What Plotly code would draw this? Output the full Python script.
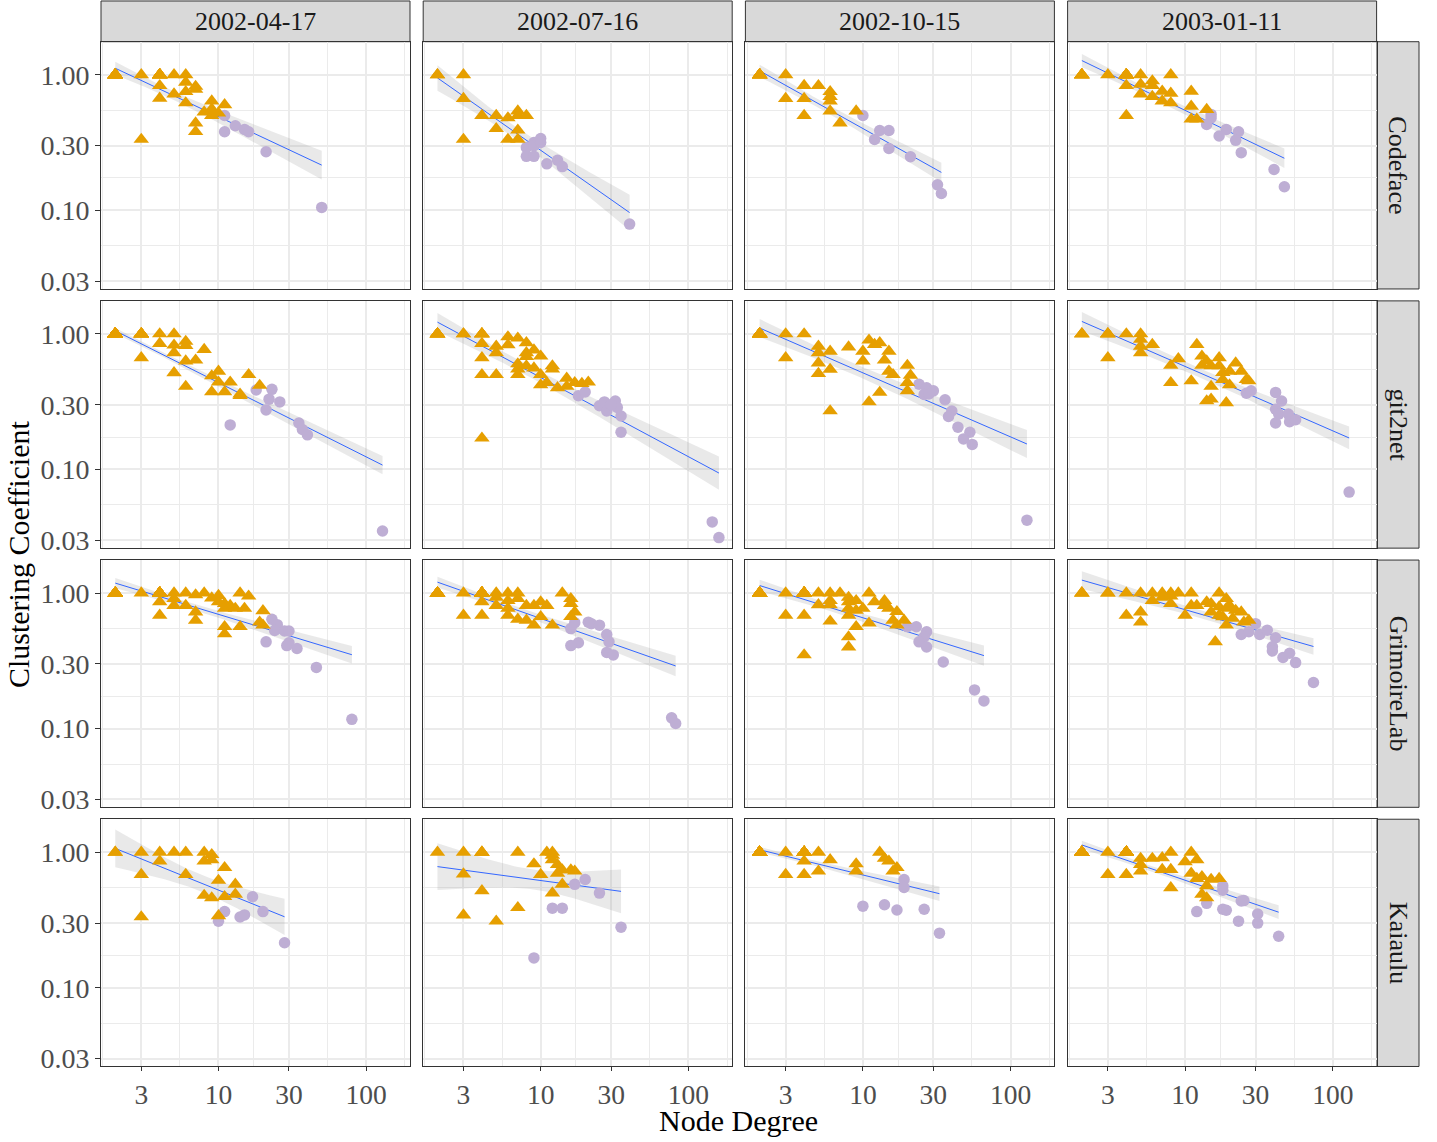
import numpy as np
import plotly.graph_objects as go

# ---------------- data ----------------
DATES = ["2002-04-17", "2002-07-16", "2002-10-15", "2003-01-11"]
TOOLS = ["Codeface", "git2net", "GrimoireLab", "Kaiaulu"]

X_TICKS = [3, 10, 30, 100]
X_TICK_TEXT = ["3", "10", "30", "100"]
Y_TICKS = [0.03, 0.1, 0.3, 1.0]
Y_TICK_TEXT = ["0.03", "0.10", "0.30", "1.00"]

# (node degree, clustering coefficient) ; peripheral = triangles, core = circles
codeface_0417_peripheral = [(2,1.0),(3,1.0),(4,1.0),(5,1.0),(6,1.0),(4,0.83),(6,0.88),(7,0.82),(7,0.78),(6,0.75),(4,0.67),(5,0.72),(6,0.62),(9,0.64),(11,0.6),(8,0.53),(9,0.5),(9,0.56),(10,0.52),(7,0.44),(7,0.38),(3,0.333)]
codeface_0417_core = [(11,0.5),(11,0.38),(13,0.42),(15,0.395),(16,0.38),(21,0.27),(50,0.105)]
codeface_0716_peripheral = [(2,1.0),(3,1.0),(3,0.667),(3,0.333),(4,0.5),(5,0.5),(6,0.48),(5,0.4),(7,0.54),(7,0.5),(8,0.5),(7,0.39),(6,0.333),(7,0.333)]
codeface_0716_core = [(10,0.338),(9,0.316),(8,0.29),(8,0.25),(9,0.25),(9,0.3),(10,0.316),(11,0.22),(13,0.234),(14,0.21),(40,0.079)]
codeface_1015_peripheral = [(2,1.0),(3,1.0),(3,0.667),(4,0.833),(4,0.667),(4,0.5),(5,0.83),(6,0.75),(6,0.69),(6,0.64),(6,0.54),(7,0.44),(9,0.54)]
codeface_1015_core = [(10,0.5),(13,0.388),(15,0.388),(12,0.333),(15,0.286),(21,0.248),(32,0.154),(34,0.133)]
codeface_0111_peripheral = [(2,1.0),(3,1.0),(4,1.0),(5,1.0),(8,1.0),(4,0.833),(6,0.9),(6,0.83),(5,0.85),(5,0.72),(6,0.69),(7,0.755),(7,0.64),(8,0.73),(8,0.62),(11,0.755),(11,0.585),(11,0.47),(14,0.553),(12,0.47),(4,0.5)]
codeface_0111_core = [(15,0.51),(15,0.48),(14,0.43),(19,0.395),(23,0.38),(17,0.353),(22,0.328),(24,0.266),(40,0.2),(47,0.149)]

git2net_0417_peripheral = [(2,1.0),(3,1.0),(3,0.667),(4,0.85),(5,1.0),(5,0.826),(5,0.725),(5,0.517),(6,0.88),(6,0.82),(6,0.63),(6,0.41),(7,0.64),(8,0.767),(9,0.49),(10,0.53),(10,0.44),(9,0.373),(11,0.373),(12,0.44),(14,0.359),(14,0.35),(16,0.5),(19,0.417)]
git2net_0417_core = [(18,0.386),(23,0.39),(22,0.33),(26,0.315),(21,0.275),(12,0.213),(35,0.22),(37,0.197),(40,0.18),(129,0.0351)]
git2net_0716_peripheral = [(2,1.0),(3,1.0),(4,1.0),(4,0.85),(4,0.667),(4,0.5),(5,0.5),(5,0.81),(5,0.725),(6,0.95),(6,0.83),(7,0.93),(8,0.86),(8,0.725),(8,0.68),(7,0.6),(7,0.55),(7,0.5),(8,0.58),(9,0.76),(10,0.685),(9,0.56),(10,0.5),(10,0.42),(11,0.437),(12,0.58),(12,0.55),(13,0.4),(15,0.47),(15,0.41),(17,0.437),(19,0.43),(21,0.44),(4,0.17)]
git2net_0716_core = [(18,0.35),(20,0.373),(25,0.295),(27,0.315),(28,0.27),(32,0.32),(33,0.287),(35,0.248),(35,0.188),(30,0.3),(145,0.041),(161,0.0314)]
git2net_1015_peripheral = [(2,1.0),(3,1.0),(4,1.0),(3,0.667),(5,0.81),(5,0.725),(5,0.61),(5,0.51),(6,0.745),(6,0.547),(6,0.27),(8,0.8),(10,0.745),(10,0.63),(11,0.9),(12,0.835),(13,0.86),(15,0.745),(14,0.64),(15,0.53),(16,0.5),(11,0.315),(13,0.37),(20,0.585),(21,0.495),(20,0.437),(20,0.38)]
git2net_1015_core = [(24,0.425),(27,0.4),(26,0.358),(28,0.36),(30,0.38),(36,0.327),(40,0.27),(38,0.246),(44,0.205),(53,0.188),(48,0.168),(55,0.153),(129,0.0422)]
git2net_0111_peripheral = [(2,1.0),(3,1.0),(3,0.667),(4,1.0),(5,1.0),(5,0.91),(5,0.81),(5,0.725),(6,0.835),(8,0.585),(9,0.655),(8,0.437),(11,0.45),(12,0.835),(13,0.685),(13,0.585),(14,0.63),(15,0.58),(15,0.41),(14,0.32),(15,0.33),(17,0.667),(17,0.58),(18,0.518),(18,0.46),(19,0.31),(20,0.42),(20,0.53),(22,0.61),(24,0.53),(26,0.46),(27,0.45)]
git2net_0111_core = [(26,0.365),(28,0.38),(41,0.37),(45,0.32),(41,0.278),(43,0.256),(41,0.22),(50,0.256),(51,0.225),(56,0.233),(129,0.068)]

grimoirelab_0417_peripheral = [(2,1.0),(3,1.0),(4,1.0),(4,0.86),(4,0.685),(5,1.0),(5,0.91),(5,0.81),(6,1.0),(6,0.81),(7,0.97),(7,0.725),(7,0.63),(8,1.0),(9,0.92),(10,0.96),(10,0.86),(11,0.835),(11,0.77),(11,0.565),(11,0.5),(12,0.81),(13,0.77),(14,1.0),(14,0.565),(15,0.77),(16,0.95),(20,0.74),(19,0.61),(20,0.58)]
grimoirelab_0417_core = [(23,0.64),(25,0.585),(24,0.53),(28,0.525),(30,0.525),(21,0.437),(29,0.41),(30,0.43),(34,0.39),(46,0.283),(80,0.117)]
grimoirelab_0716_peripheral = [(2,1.0),(3,1.0),(3,0.685),(4,1.0),(4,0.86),(4,0.685),(5,1.0),(5,0.93),(5,0.81),(6,1.0),(6,0.88),(6,0.77),(6,0.685),(7,1.0),(7,0.91),(7,0.64),(8,0.81),(8,0.63),(9,0.81),(9,0.58),(10,0.86),(10,0.67),(11,0.81),(12,0.58),(14,1.0),(16,0.91),(16,0.835),(17,0.725),(16,0.67)]
grimoirelab_0716_core = [(17,0.605),(16,0.547),(21,0.61),(22,0.595),(25,0.58),(28,0.495),(29,0.437),(18,0.43),(16,0.41),(28,0.365),(31,0.35),(77,0.12),(82,0.109)]
grimoirelab_1015_peripheral = [(2,1.0),(3,1.0),(3,0.685),(4,1.0),(4,0.685),(4,0.35),(5,1.0),(5,0.82),(6,1.0),(6,0.88),(6,0.82),(6,0.62),(7,1.0),(8,0.93),(8,0.86),(8,0.77),(8,0.685),(8,0.475),(8,0.4),(9,0.88),(9,0.745),(9,0.565),(10,0.77),(11,1.0),(11,0.6),(12,0.86),(14,0.88),(14,0.81),(15,0.77),(17,0.73),(16,0.63),(17,0.58),(19,0.63)]
grimoirelab_1015_core = [(20,0.565),(23,0.565),(27,0.518),(26,0.475),(24,0.437),(27,0.4),(35,0.31),(57,0.193),(66,0.16)]
grimoirelab_0111_peripheral = [(2,1.0),(3,1.0),(4,1.0),(4,0.685),(5,1.0),(5,0.725),(5,0.61),(6,1.0),(6,0.88),(7,1.0),(7,0.93),(8,1.0),(8,0.95),(8,0.835),(9,1.0),(10,0.685),(11,1.0),(11,0.81),(12,0.81),(14,0.86),(15,0.835),(15,0.725),(16,0.437),(17,1.0),(17,0.79),(17,0.685),(19,0.91),(19,0.77),(19,0.58),(20,0.81),(22,0.745),(24,0.725),(18,0.667),(21,0.65),(25,0.61),(27,0.63)]
grimoirelab_0111_core = [(24,0.495),(27,0.518),(30,0.595),(32,0.495),(36,0.533),(41,0.468),(39,0.402),(39,0.374),(46,0.335),(51,0.36),(56,0.307),(74,0.219)]

kaiaulu_0417_peripheral = [(2,1.0),(3,1.0),(4,1.0),(5,1.0),(6,1.0),(8,1.0),(9,0.96),(8,0.86),(9,0.88),(4,0.86),(3,0.685),(6,0.685),(11,0.77),(10,0.62),(13,0.58),(13,0.49),(8,0.48),(9,0.46),(11,0.47),(10,0.34),(3,0.333)]
kaiaulu_0417_core = [(17,0.47),(11,0.365),(20,0.365),(14,0.333),(15,0.345),(10,0.31),(28,0.215)]
kaiaulu_0716_peripheral = [(2,1.0),(3,1.0),(3,0.69),(3,0.344),(4,0.52),(5,0.31),(7,1.0),(7,0.39),(9,0.82),(10,0.685),(11,1.0),(12,1.0),(12,0.95),(12,0.88),(13,0.81),(13,0.7),(14,0.74),(16,0.74),(17,0.725),(14,0.58),(12,0.5)]
kaiaulu_0716_core = [(9,0.166),(12,0.387),(14,0.387),(17,0.58),(20,0.63),(25,0.5),(35,0.28)]
kaiaulu_1015_peripheral = [(2,1.0),(3,1.0),(4,1.0),(5,1.0),(3,0.685),(4,0.685),(5,0.725),(4,0.86),(6,0.88),(9,0.82),(9,0.725),(13,1.0),(14,0.9),(15,0.86),(17,0.77),(16,0.725)]
kaiaulu_1015_core = [(19,0.63),(19,0.55),(10,0.4),(14,0.41),(17,0.375),(26,0.38),(33,0.253)]
kaiaulu_0111_peripheral = [(2,1.0),(3,1.0),(4,1.0),(3,0.685),(4,0.685),(5,0.9),(5,0.81),(5,0.725),(6,0.9),(7,0.91),(8,1.0),(7,0.745),(8,0.745),(8,0.547),(10,0.85),(11,1.0),(12,0.88),(11,0.7),(12,0.64),(13,0.66),(15,0.63),(17,0.64),(14,0.565),(13,0.49),(14,0.46)]
kaiaulu_0111_core = [(18,0.565),(18,0.525),(14,0.42),(24,0.437),(25,0.44),(12,0.365),(18,0.38),(19,0.373),(23,0.31),(31,0.35),(31,0.3),(43,0.24)]

# peripheral nodes hidden under the visible ones: (degree, clustering coefficient, how many stacked)
codeface_0417_stacked = [(2, 1.0, 15), (4, 1.0, 8)]
codeface_0716_stacked = [(2, 1.0, 1)]
codeface_1015_stacked = [(2, 1.0, 8)]
codeface_0111_stacked = [(2, 1.0, 5), (4, 1.0, 9)]
git2net_0417_stacked = [(2, 1.0, 59), (3, 1.0, 9), (4, 1.0, 1)]
git2net_0716_stacked = [(2, 1.0, 9), (3, 1.0, 1), (4, 1.0, 4)]
git2net_1015_stacked = [(2, 1.0, 13)]
git2net_0111_stacked = [(2, 1.0, 2), (3, 1.0, 3)]
grimoirelab_0417_stacked = [(2, 1.0, 11), (4, 1.0, 20)]
grimoirelab_0716_stacked = [(2, 1.0, 12), (4, 1.0, 20)]
grimoirelab_1015_stacked = [(2, 1.0, 12), (4, 1.0, 18)]
grimoirelab_0111_stacked = [(2, 1.0, 2), (3, 1.0, 1)]
kaiaulu_0417_stacked = [(2, 1.0, 1)]
kaiaulu_0716_stacked = [(4, 1.0, 3)]
kaiaulu_1015_stacked = [(2, 1.0, 40), (4, 1.0, 17)]
kaiaulu_0111_stacked = [(2, 1.0, 18), (4, 1.0, 20)]

PANELS = [
    [(codeface_0417_peripheral, codeface_0417_core, codeface_0417_stacked),
     (codeface_0716_peripheral, codeface_0716_core, codeface_0716_stacked),
     (codeface_1015_peripheral, codeface_1015_core, codeface_1015_stacked),
     (codeface_0111_peripheral, codeface_0111_core, codeface_0111_stacked)],
    [(git2net_0417_peripheral, git2net_0417_core, git2net_0417_stacked),
     (git2net_0716_peripheral, git2net_0716_core, git2net_0716_stacked),
     (git2net_1015_peripheral, git2net_1015_core, git2net_1015_stacked),
     (git2net_0111_peripheral, git2net_0111_core, git2net_0111_stacked)],
    [(grimoirelab_0417_peripheral, grimoirelab_0417_core, grimoirelab_0417_stacked),
     (grimoirelab_0716_peripheral, grimoirelab_0716_core, grimoirelab_0716_stacked),
     (grimoirelab_1015_peripheral, grimoirelab_1015_core, grimoirelab_1015_stacked),
     (grimoirelab_0111_peripheral, grimoirelab_0111_core, grimoirelab_0111_stacked)],
    [(kaiaulu_0417_peripheral, kaiaulu_0417_core, kaiaulu_0417_stacked),
     (kaiaulu_0716_peripheral, kaiaulu_0716_core, kaiaulu_0716_stacked),
     (kaiaulu_1015_peripheral, kaiaulu_1015_core, kaiaulu_1015_stacked),
     (kaiaulu_0111_peripheral, kaiaulu_0111_core, kaiaulu_0111_stacked)],
]

# ---------------- styling / layout ----------------
W, H = 1437, 1142
FONT = "Liberation Serif"
ORANGE = "#E69F00"
PURPLE = "#BEAED4"
GRID = "#EBEBEB"
DARK = "#333333"

X_RANGE = [0.2045, 2.2966]
Y_RANGE = [-1.581, 0.244]
X_MINOR = [10 ** v for v in (0.2157, 0.7386, 1.2386, 1.7386, 2.2614)]
Y_MINOR = [10 ** v for v in (-1.2614, -0.7614, -0.2614)]

COL_LEFT = [101 + 322.2 * c for c in range(4)]
PANEL_W = 309
ROW_TOP = [42 + 261 * r for r in range(4)]
PANEL_H = 249


def px_x(p):
    return p / W


def px_y(p):
    return 1 - p / H


def t_quantile(df, z=1.959964):
    return (z + (z**3 + z) / (4 * df) + (5 * z**5 + 16 * z**3 + 3 * z) / (96 * df**2)
            + (3 * z**7 + 19 * z**5 + 17 * z**3 - 15 * z) / (384 * df**3))


def lm_band(points):
    lx = np.log10([p[0] for p in points])
    ly = np.log10([p[1] for p in points])
    n = len(lx)
    slope, intercept = np.polyfit(lx, ly, 1)
    res = ly - (slope * lx + intercept)
    s = np.sqrt(np.sum(res**2) / (n - 2))
    xm = lx.mean()
    sxx = np.sum((lx - xm) ** 2)
    gx = np.linspace(lx.min(), lx.max(), 80)
    fit = slope * gx + intercept
    se = s * np.sqrt(1.0 / n + (gx - xm) ** 2 / sxx)
    tq = t_quantile(n - 2)
    return 10 ** gx, 10 ** fit, 10 ** (fit - tq * se), 10 ** (fit + tq * se)


fig = go.Figure()
layout = dict(
    width=W, height=H, autosize=False,
    margin=dict(l=0, r=0, t=0, b=0, pad=0),
    paper_bgcolor="white", plot_bgcolor="white",
    showlegend=False,
    font=dict(family=FONT),
)
shapes, annotations = [], []

for r in range(4):
    for c in range(4):
        k = r * 4 + c + 1
        xs = "" if k == 1 else str(k)
        periph, core, stacked = PANELS[r][c]
        hidden = [(d, v) for d, v, cnt in stacked for _ in range(cnt)]
        allpts = periph + hidden + core
        gx, fit, lo, hi = lm_band(allpts)
        xa, ya = "x" + xs, "y" + xs
        fig.add_trace(go.Scatter(
            x=np.concatenate([gx, gx[::-1]]), y=np.concatenate([hi, lo[::-1]]),
            fill="toself", fillcolor="rgba(153,153,153,0.22)", line=dict(width=0),
            mode="lines", hoverinfo="skip", xaxis=xa, yaxis=ya))
        fig.add_trace(go.Scatter(x=gx, y=fit, mode="lines",
                                 line=dict(color="#3366FF", width=1),
                                 xaxis=xa, yaxis=ya))
        fig.add_trace(go.Scatter(
            x=[p[0] for p in core], y=[p[1] for p in core], mode="markers",
            marker=dict(symbol="circle", size=11.5, color=PURPLE, line=dict(width=0)),
            xaxis=xa, yaxis=ya))
        fig.add_trace(go.Scatter(
            x=[p[0] for p in periph + hidden], y=[p[1] for p in periph + hidden], mode="markers",
            marker=dict(symbol="triangle-up", size=13.5, color=ORANGE, line=dict(width=0)),
            xaxis=xa, yaxis=ya))

        x0 = px_x(COL_LEFT[c])
        x1 = px_x(COL_LEFT[c] + PANEL_W)
        y1 = px_y(ROW_TOP[r])
        y0 = px_y(ROW_TOP[r] + PANEL_H)
        bottom = r == 3
        left = c == 0
        layout["xaxis" + xs] = dict(
            type="log", range=X_RANGE, domain=[x0, x1], anchor=ya,
            tickmode="array", tickvals=X_TICKS, ticktext=X_TICK_TEXT,
            showticklabels=bottom, ticks="outside" if bottom else "",
            ticklen=4, tickwidth=1, tickcolor=DARK,
            tickfont=dict(family=FONT, size=27.5, color="#4D4D4D"),
            showgrid=True, gridcolor=GRID, gridwidth=1.6,
            minor=dict(tickvals=X_MINOR, showgrid=True, gridcolor=GRID, gridwidth=0.8, ticks=""),
            showline=True, mirror=True, linecolor=DARK, linewidth=1, zeroline=False,
        )
        layout["yaxis" + xs] = dict(
            type="log", range=Y_RANGE, domain=[y0, y1], anchor=xa,
            tickmode="array", tickvals=Y_TICKS, ticktext=Y_TICK_TEXT,
            showticklabels=left, ticks="outside" if left else "",
            ticklen=5, tickwidth=1, tickcolor=DARK,
            tickfont=dict(family=FONT, size=28, color="#4D4D4D"),
            showgrid=True, gridcolor=GRID, gridwidth=1.6,
            minor=dict(tickvals=Y_MINOR, showgrid=True, gridcolor=GRID, gridwidth=0.8, ticks=""),
            showline=True, mirror=True, linecolor=DARK, linewidth=1, zeroline=False,
        )

# strips: top (dates)
for c, d in enumerate(DATES):
    x0 = px_x(COL_LEFT[c])
    x1 = px_x(COL_LEFT[c] + PANEL_W)
    shapes.append(dict(type="rect", xref="paper", yref="paper", x0=x0, x1=x1,
                       y0=px_y(42), y1=px_y(1), fillcolor="#D9D9D9",
                       line=dict(color=DARK, width=1), layer="below"))
    annotations.append(dict(xref="paper", yref="paper", x=(x0 + x1) / 2, y=px_y(21.5),
                            text=d, showarrow=False, xanchor="center", yanchor="middle",
                            font=dict(family=FONT, size=26, color="#1A1A1A")))
# strips: right (tools)
for r, t in enumerate(TOOLS):
    y1 = px_y(ROW_TOP[r])
    y0 = px_y(ROW_TOP[r] + PANEL_H)
    shapes.append(dict(type="rect", xref="paper", yref="paper",
                       x0=px_x(1377), x1=px_x(1419),
                       y0=y0, y1=y1, fillcolor="#D9D9D9",
                       line=dict(color=DARK, width=1), layer="below"))
    annotations.append(dict(xref="paper", yref="paper", x=px_x(1398), y=(y0 + y1) / 2,
                            text=t, showarrow=False, textangle=90,
                            xanchor="center", yanchor="middle",
                            font=dict(family=FONT, size=26, color="#1A1A1A")))

annotations.append(dict(xref="paper", yref="paper", x=px_x(739), y=px_y(1128.5),
                        text="Node Degree", showarrow=False, xanchor="center", yanchor="middle",
                        font=dict(family=FONT, size=30, color="black")))
annotations.append(dict(xref="paper", yref="paper", x=px_x(18), y=px_y(558),
                        text="Clustering Coefficient", showarrow=False, textangle=-90,
                        xanchor="center", yanchor="middle",
                        font=dict(family=FONT, size=30, color="black")))

layout["shapes"] = shapes
layout["annotations"] = annotations
fig.update_layout(**layout)
fig.write_html("out.html",
               config={"displayModeBar": False},
               post_script="document.body.style.margin='0px';document.body.style.overflow='hidden';")
